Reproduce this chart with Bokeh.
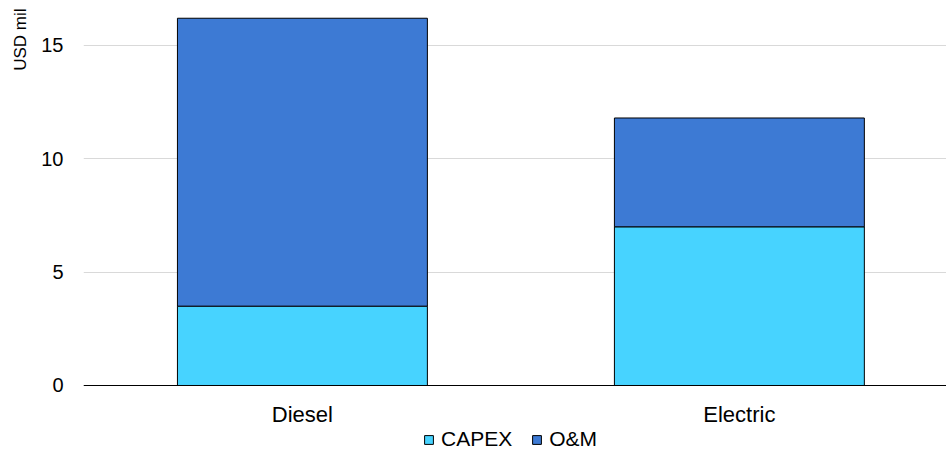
from bokeh.plotting import figure
from bokeh.models import (ColumnDataSource, Range1d, FixedTicker, Legend,
                          LegendItem, Title)
from bokeh.embed import file_html
from bokeh.resources import INLINE

categories = ["Diesel", "Electric"]
capex = [3.5, 7.0]
om = [12.7, 4.8]
series_names = ["CAPEX", "O&M"]
series_colors = ["#47D3FF", "#3D7AD4"]
y_ticks = [0, 5, 10, 15]

FONT = "Liberation Sans"

src = ColumnDataSource(dict(x=list(range(len(categories))), capex=capex, om=om))

# frame extends to the bottom of the canvas; the x axis sits at y = 0
p = figure(width=946, height=453, output_backend="svg", toolbar_location=None,
           x_range=Range1d(-0.501, 1.474), y_range=Range1d(-3.0, 16.63),
           min_border_left=83, min_border_right=0, min_border_top=8,
           min_border_bottom=0)
p.outline_line_color = None

rs = p.vbar_stack(["capex", "om"], x="x", width=0.572, source=src,
                  fill_color=series_colors, line_color="black", line_width=1)

# axes
p.xaxis.fixed_location = 0
p.xaxis.ticker = FixedTicker(ticks=list(range(len(categories))))
p.xaxis.major_label_overrides = {i: c for i, c in enumerate(categories)}
p.xaxis.major_tick_line_color = None
p.xaxis.minor_tick_line_color = None
p.xaxis.major_tick_out = 0
p.xaxis.major_label_standoff = 17
p.xaxis.axis_line_color = "black"
p.xaxis.axis_line_width = 1.2
p.xaxis.major_label_text_font = FONT
p.xaxis.major_label_text_font_size = "22px"
p.xaxis.major_label_text_color = "black"

p.yaxis.ticker = FixedTicker(ticks=y_ticks)
p.yaxis.axis_line_color = None
p.yaxis.major_tick_line_color = None
p.yaxis.minor_tick_line_color = None
p.yaxis.major_tick_out = 0
p.yaxis.major_label_standoff = 20
p.yaxis.major_label_text_font = FONT
p.yaxis.major_label_text_font_size = "20px"
p.yaxis.major_label_text_color = "black"

p.xgrid.grid_line_color = None
p.ygrid.grid_line_color = "#d9d9d9"
p.ygrid.grid_line_width = 1

# y label at the top-left
t = Title(text="USD mil", align="right", text_font=FONT, text_font_size="17px",
          text_font_style="normal", text_color="black", standoff=17)
p.add_layout(t, "left")

legend = Legend(items=[LegendItem(label=n, renderers=[r]) for n, r in zip(series_names, rs)],
                orientation="horizontal", location=(340, 2),
                label_text_font=FONT, label_text_font_size="21px",
                label_text_color="black",
                glyph_width=11, glyph_height=11, label_standoff=7, spacing=19,
                padding=0, margin=0, border_line_color=None,
                background_fill_alpha=0)
p.add_layout(legend, "center")

open("out.html", "w").write(file_html(p, INLINE))
